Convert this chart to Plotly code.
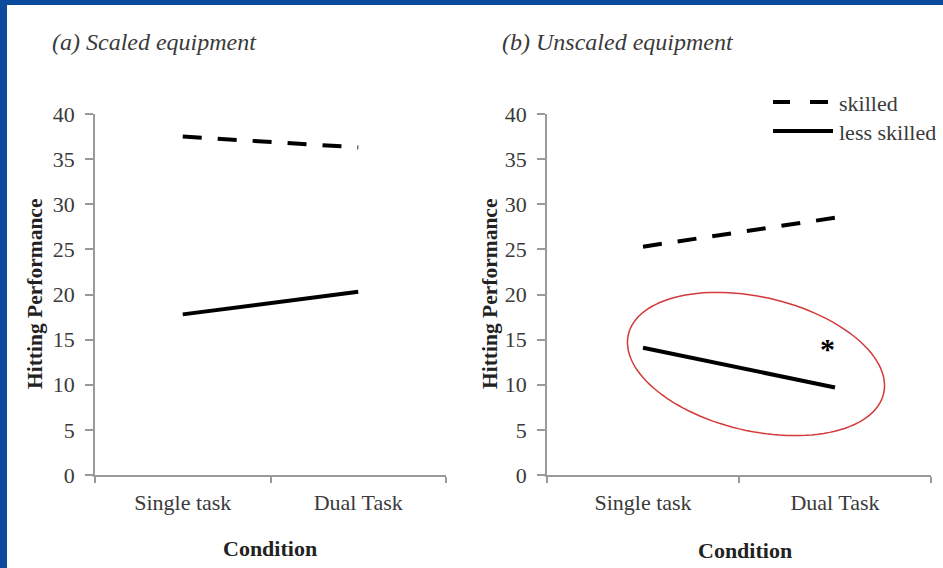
import numpy as np
import plotly.graph_objects as go

# ---------------- data ----------------
conditions = ["Single task", "Dual Task"]
cond_pos = [0, 1]
scaled_skilled = [37.5, 36.3]
scaled_less = [17.8, 20.3]
unscaled_skilled = [25.3, 28.5]
unscaled_less = [14.1, 9.7]
y_ticks = [0, 5, 10, 15, 20, 25, 30, 35, 40]
panel_titles = ["(a) Scaled equipment", "(b) Unscaled equipment"]
legend_labels = ["skilled", "less skilled"]

W, H = 943, 568
SERIF = "Liberation Serif"
AXIS_GREY = "#9a9a9a"
TXT = "#3a3a3a"

def px_x(p):
    return p / W

def px_y(p):
    return 1 - p / H

fig = go.Figure()

dash_style = "19px,16px"
for xa, ya, sk, ls in [("x", "y", scaled_skilled, scaled_less),
                       ("x2", "y2", unscaled_skilled, unscaled_less)]:
    fig.add_trace(go.Scatter(x=cond_pos, y=sk, mode="lines", xaxis=xa, yaxis=ya,
                             line=dict(color="black", width=4, dash=dash_style),
                             showlegend=False, hoverinfo="skip"))
    fig.add_trace(go.Scatter(x=cond_pos, y=ls, mode="lines", xaxis=xa, yaxis=ya,
                             line=dict(color="black", width=4),
                             showlegend=False, hoverinfo="skip"))

xdom1 = [px_x(95), px_x(446)]
xdom2 = [px_x(547), px_x(931)]
ydom = [px_y(475), px_y(114)]

def xaxis_cfg(dom, anchor):
    return dict(domain=dom, anchor=anchor, range=[-0.5, 1.5],
                tickvals=cond_pos, ticktext=conditions, ticks="",
                ticklabelstandoff=7, automargin=False,
                minor=dict(tick0=-0.5, dtick=1, ticks="outside", ticklen=6,
                           tickcolor=AXIS_GREY, tickwidth=1.5),
                showline=True, linecolor=AXIS_GREY, linewidth=1.5,
                showgrid=False, zeroline=False, fixedrange=True,
                tickfont=dict(family=SERIF, size=22, color=TXT))

def yaxis_cfg(anchor):
    return dict(domain=ydom, anchor=anchor, range=[0, 40], tickvals=y_ticks,
                ticks="outside", ticklen=8, tickcolor=AXIS_GREY, tickwidth=1.5,
                ticklabelstandoff=6,
                showline=True, linecolor=AXIS_GREY, linewidth=1.5, automargin=False,
                showgrid=False, zeroline=False, fixedrange=True,
                tickfont=dict(family=SERIF, size=22, color=TXT))

fig.update_layout(
    width=W, height=H, autosize=False,
    margin=dict(l=0, r=0, t=0, b=0, pad=0),
    paper_bgcolor="white", plot_bgcolor="white",
    showlegend=False,
    xaxis=xaxis_cfg(xdom1, "y"),
    yaxis=yaxis_cfg("x"),
    xaxis2=xaxis_cfg(xdom2, "y2"),
    yaxis2=yaxis_cfg("x2"),
)

ann = []
# panel titles
for t, x0 in zip(panel_titles, [50, 500]):
    ann.append(dict(text="<i>" + t + "</i>", x=px_x(x0), y=px_y(42), xref="paper", yref="paper",
                    xanchor="left", yanchor="middle", showarrow=False,
                    font=dict(family=SERIF, size=24, color=TXT)))
# y-axis titles
for xc in [35, 490]:
    ann.append(dict(text="<b>Hitting Performance</b>", x=px_x(xc), y=px_y(294), xref="paper", yref="paper",
                    textangle=-90, showarrow=False, xanchor="center", yanchor="middle",
                    font=dict(family=SERIF, size=21.5, color="#222")))
# x-axis titles
for xc, yc in [(270, 548), (745, 550)]:
    ann.append(dict(text="<b>Condition</b>", x=px_x(xc), y=px_y(yc), xref="paper", yref="paper",
                    showarrow=False, xanchor="center", yanchor="middle",
                    font=dict(family=SERIF, size=22, color="#222")))
# legend texts
for lab, yc in zip(legend_labels, [103, 133]):
    ann.append(dict(text=lab, x=px_x(837), y=px_y(yc), xref="paper", yref="paper",
                    showarrow=False, xanchor="left", yanchor="middle",
                    font=dict(family=SERIF, size=22, color=TXT)))
# significance star
ann.append(dict(text="<b>*</b>", x=0.96, y=14.0, xref="x2", yref="y2", showarrow=False,
                xanchor="center", yanchor="middle",
                font=dict(family=SERIF, size=30, color="black")))
fig.update_layout(annotations=ann)

shapes = []
# blue frame
shapes.append(dict(type="rect", xref="paper", yref="paper", x0=0, x1=1, y0=px_y(5), y1=1,
                   fillcolor="#0b4a9c", line=dict(width=0), layer="above"))
shapes.append(dict(type="rect", xref="paper", yref="paper", x0=0, x1=px_x(7), y0=0, y1=1,
                   fillcolor="#0b4a9c", line=dict(width=0), layer="above"))
# legend samples
shapes.append(dict(type="line", xref="paper", yref="paper", x0=px_x(773), x1=px_x(790),
                   y0=px_y(102), y1=px_y(102), line=dict(color="black", width=4)))
shapes.append(dict(type="line", xref="paper", yref="paper", x0=px_x(810), x1=px_x(828),
                   y0=px_y(102), y1=px_y(102), line=dict(color="black", width=4)))
shapes.append(dict(type="line", xref="paper", yref="paper", x0=px_x(773), x1=px_x(833),
                   y0=px_y(131), y1=px_y(131), line=dict(color="black", width=4)))

# red ellipse (tilted) around the less-skilled unscaled line, drawn in paper coords
cx, cy, a, b, ang = 756, 364, 131, 67, np.deg2rad(13)
t = np.linspace(0, 2 * np.pi, 120)
ex = cx + a * np.cos(t) * np.cos(ang) - b * np.sin(t) * np.sin(ang)
ey = cy + a * np.cos(t) * np.sin(ang) + b * np.sin(t) * np.cos(ang)
path = "M " + " L ".join(f"{px_x(x):.5f},{px_y(y):.5f}" for x, y in zip(ex, ey)) + " Z"
shapes.append(dict(type="path", xref="paper", yref="paper", path=path,
                   line=dict(color="#d33a3a", width=1.5)))
fig.update_layout(shapes=shapes)

fig.write_html("out.html", config={"displayModeBar": False},
               post_script="document.body.style.margin='0';document.body.style.overflow='hidden';")
